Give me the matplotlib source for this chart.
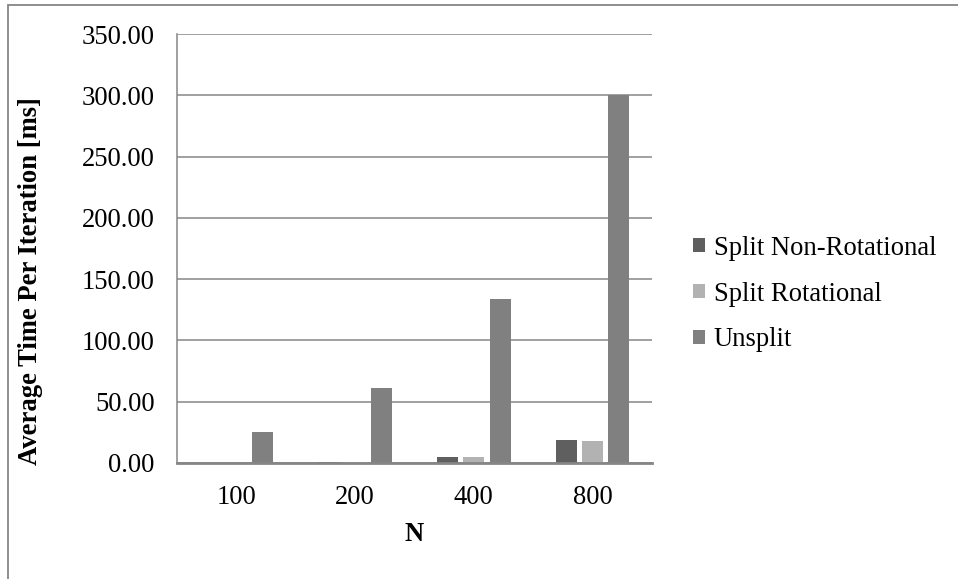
import numpy as np
import matplotlib.pyplot as plt
import matplotlib.patches as patches

# timings per iteration (ms)
sizes = ['100', '200', '400', '800']
split_nonrot = [0.3, 1.1, 5.0, 18.5]
split_rot = [0.3, 1.0, 4.5, 18.0]
unsplit = [25.0, 61.5, 134.0, 300.0]

series = [('Split Non-Rotational', split_nonrot, '#5f5f5f'),
          ('Split Rotational', split_rot, '#b2b2b2'),
          ('Unsplit', unsplit, '#808080')]

plt.rcParams['font.family'] = ['Liberation Serif', 'DejaVu Serif']
fs = 19.2

fig = plt.figure(figsize=(9.58, 5.79), dpi=100)
ax = fig.add_axes([177/958, 1 - 463/579, (652 - 177)/958, (463 - 34)/579])

x = np.arange(len(sizes))
w = 0.177
step = 0.2215
for i, (name, vals, col) in enumerate(series):
    ax.bar(x + (i - 1)*step, vals, w, color=col, label=name, zorder=2)

ax.set_xlim(-0.5, len(sizes) - 0.5)
ax.set_ylim(0, 350)
ax.set_yticks(np.arange(0, 351, 50))
ax.set_yticklabels(['%.2f' % v for v in np.arange(0, 351, 50)])
ax.set_xticks(x)
ax.set_xticklabels(sizes)
ax.tick_params(length=0, labelsize=fs)
ax.tick_params(axis='y', pad=16)
ax.tick_params(axis='x', pad=15.5)

ax.grid(axis='y', color='#868686', linewidth=1.1, zorder=0)
ax.set_axisbelow(True)
for s in ['top', 'right']:
    ax.spines[s].set_visible(False)
ax.spines['left'].set_color('#868686')
ax.spines['left'].set_linewidth(1.1)
ax.spines['bottom'].set_color('#868686')
ax.spines['bottom'].set_linewidth(2)
ax.spines['bottom'].set_zorder(3)

ax.set_xlabel('N', fontsize=fs, fontweight='bold', labelpad=9)
ax.set_ylabel('Average Time Per Iteration [ms]', fontsize=fs, fontweight='bold')
ax.yaxis.set_label_coords((43 - 177)/475, (463 - 281)/429)

fig.legend(loc='center left', bbox_to_anchor=(0.709, 0.492), frameon=False,
           fontsize=fs, borderpad=0, handlelength=0.45, handleheight=0.45,
           handletextpad=0.35, labelspacing=0.78)

# outer chart frame
frame = patches.Rectangle((8/958, -0.1), 1.2, 1 - 5/579 + 0.1, transform=fig.transFigure,
                          fill=False, edgecolor='#868686', linewidth=1.3)
fig.patches.append(frame)

fig.savefig('out.png', dpi=100)
